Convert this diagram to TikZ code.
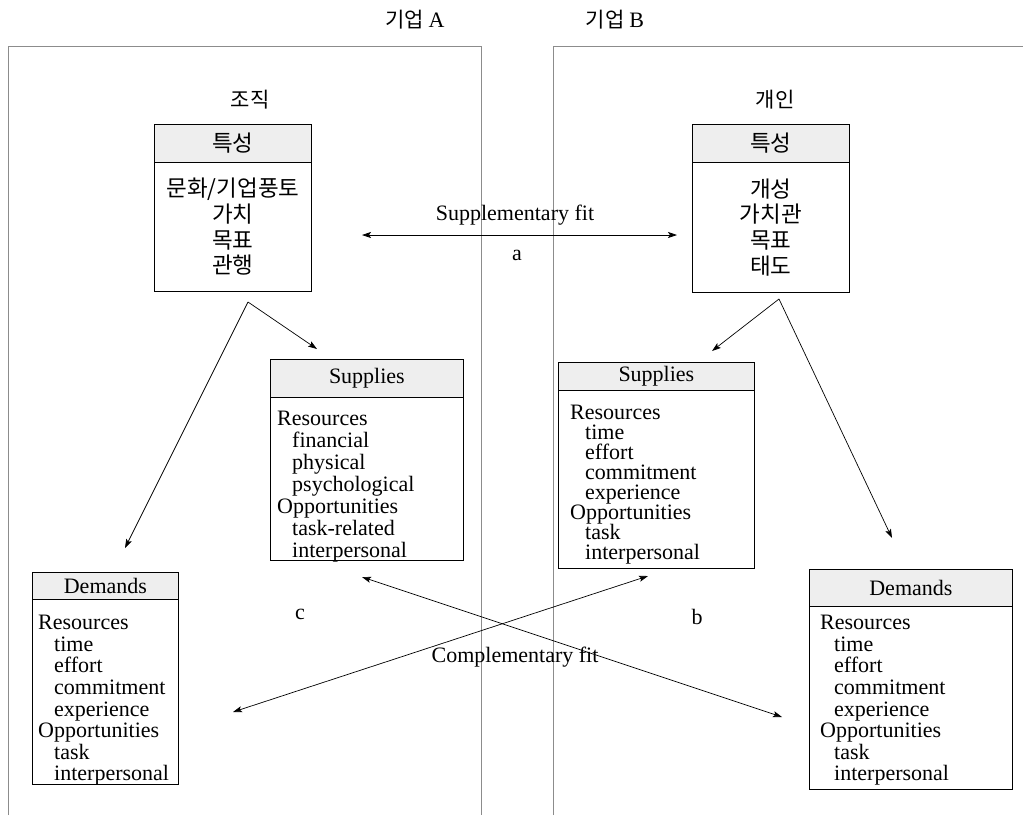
\documentclass[tikz,border=0pt]{standalone}
\usepackage{fontspec}
\setmainfont{Liberation Serif}
\newfontfamily\kr{Noto Sans CJK KR}
\usetikzlibrary{arrows.meta}
\definecolor{framegray}{HTML}{8C8C8C}
\definecolor{hdrfill}{HTML}{EEEEEE}
\begin{document}
\begin{tikzpicture}[x=1pt,y=-1pt,
  bigframe/.style={draw=framegray, line width=0.9pt},
  hdr/.style={draw=black, fill=hdrfill, line width=0.8pt, anchor=north west, inner sep=0pt, font=\fontsize{22}{22}\selectfont},
  khdr/.style={hdr, font=\kr\fontsize{22.5}{24}\selectfont},
  bodyb/.style={draw=black, line width=0.8pt, anchor=north west, inner sep=0pt},
  kbody/.style={bodyb, align=center, font=\kr\fontsize{22.5}{25.7}\selectfont},
  lst/.style={anchor=north west, inner sep=0pt, align=left},
  lbl/.style={inner sep=0pt, font=\fontsize{22}{22}\selectfont},
  klbl/.style={inner sep=0pt, font=\kr\fontsize{21}{22}\selectfont},
  arr/.style={-{Stealth[length=9pt,width=6pt,inset=2pt]}, line width=0.7pt},
  darr/.style={{Stealth[length=9pt,width=6pt,inset=2pt]}-{Stealth[length=9pt,width=6pt,inset=2pt]}, line width=0.7pt}
]
\useasboundingbox (0,0) rectangle (1023,815);

% company frames
\draw[bigframe] (8,815) -- (8,46) -- (481,46) -- (481,815);
\draw[bigframe] (553,815) -- (553,46) -- (1023,46);

% titles
\node[klbl] (compA) at (415,20) {기업 {\rmfamily\fontsize{22}{22}\selectfont A}};
\node[klbl] (compB) at (615,20) {기업 {\rmfamily\fontsize{22}{22}\selectfont B}};
\node[klbl] (org) at (250,100) {조직};
\node[klbl] (ind) at (775,100) {개인};

% characteristic boxes
\node[khdr, minimum width=157pt, minimum height=38pt] (lcH) at (154,124) {특성};
\node[kbody, minimum width=157pt, minimum height=129pt] (lcB) at (154,162) {문화/기업풍토\\가치\\목표\\관행};
\node[khdr, minimum width=157pt, minimum height=38pt] (rcH) at (692,124) {특성};
\node[kbody, minimum width=157pt, minimum height=130pt] (rcB) at (692,162) {개성\\가치관\\목표\\태도};

% left supplies
\node[hdr, minimum width=193pt, minimum height=38pt] (lsH) at (270,359) {Supplies};
\node[bodyb, minimum width=193pt, minimum height=163pt] (lsB) at (270,397) {};
\node[lst, font=\fontsize{22}{22}\selectfont] (lsT) at (277,411) {Resources\\\hspace*{15pt}financial\\\hspace*{15pt}physical\\\hspace*{15pt}psychological\\Opportunities\\\hspace*{15pt}task-related\\\hspace*{15pt}interpersonal};

% right supplies
\node[hdr, minimum width=196pt, minimum height=28pt] (rsH) at (558,362) {Supplies};
\node[bodyb, minimum width=196pt, minimum height=178pt] (rsB) at (558,390) {};
\node[lst, font=\fontsize{22}{20}\selectfont] (rsT) at (570,405) {Resources\\\hspace*{15pt}time\\\hspace*{15pt}effort\\\hspace*{15pt}commitment\\\hspace*{15pt}experience\\Opportunities\\\hspace*{15pt}task\\\hspace*{15pt}interpersonal};

% left demands
\node[hdr, minimum width=146pt, minimum height=27pt] (ldH) at (32,572) {Demands};
\node[bodyb, minimum width=146pt, minimum height=185pt] (ldB) at (32,599) {};
\node[lst, font=\fontsize{22}{21.6}\selectfont] (ldT) at (38,615) {Resources\\\hspace*{16pt}time\\\hspace*{16pt}effort\\\hspace*{16pt}commitment\\\hspace*{16pt}experience\\Opportunities\\\hspace*{16pt}task\\\hspace*{16pt}interpersonal};

% right demands
\node[hdr, minimum width=203pt, minimum height=37pt] (rdH) at (809,569) {Demands};
\node[bodyb, minimum width=203pt, minimum height=183pt] (rdB) at (809,606) {};
\node[lst, font=\fontsize{22}{21.6}\selectfont] (rdT) at (820,615) {Resources\\\hspace*{14pt}time\\\hspace*{14pt}effort\\\hspace*{14pt}commitment\\\hspace*{14pt}experience\\Opportunities\\\hspace*{14pt}task\\\hspace*{14pt}interpersonal};

% arrow points
\coordinate (apL) at (248,302);
\coordinate (apR) at (779,299);
\coordinate (tLS) at (317,349);
\coordinate (tLD) at (125,548);
\coordinate (tRS) at (712,351);
\coordinate (tRD) at (892,538);
\coordinate (sfL) at (362,235);
\coordinate (sfR) at (677,235);
\coordinate (bA) at (362,577);
\coordinate (bB) at (782,717);
\coordinate (cA) at (233,712);
\coordinate (cB) at (648,576);

\draw[arr] (apL) -- (tLS);
\draw[arr] (apL) -- (tLD);
\draw[arr] (apR) -- (tRS);
\draw[arr] (apR) -- (tRD);
\draw[darr] (sfL) -- (sfR);
\draw[darr] (bA) -- (bB);
\draw[darr] (cA) -- (cB);

% labels
\node[lbl] (supfit) at (515,215) {Supplementary fit};
\node[lbl] (la) at (517,255) {a};
\node[lbl] (compfit) at (515,657) {Complementary fit};
\node[lbl] (lb) at (697,617) {b};
\node[lbl] (lc) at (300,614) {c};
\end{tikzpicture}
\end{document}
